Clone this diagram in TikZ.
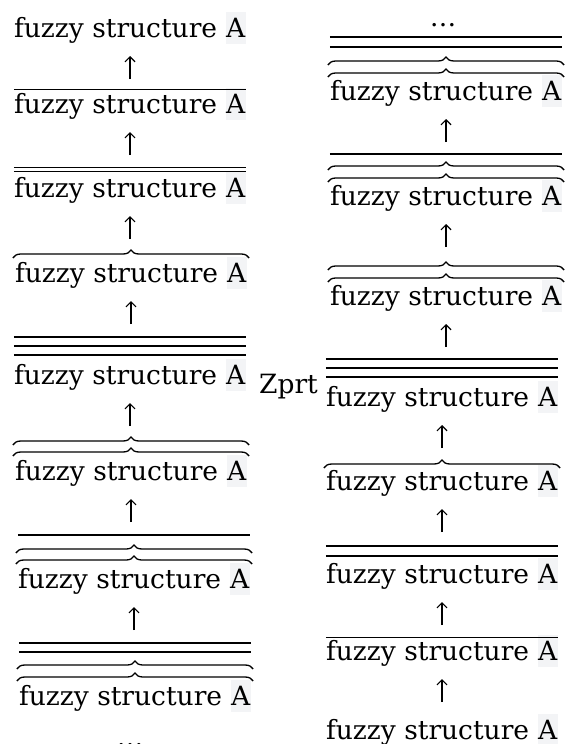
\documentclass[tikz,border=0pt]{standalone}
\usepackage{fontspec}
\setmainfont{DejaVu Serif}
\usetikzlibrary{arrows.meta, decorations.pathreplacing}

\definecolor{hlgray}{RGB}{243,244,246}
\newcommand{\hlA}{{\setlength{\fboxsep}{0.6pt}\colorbox{hlgray}{\rule[-6pt]{0pt}{30pt}A}}}

\begin{document}
\begin{tikzpicture}[
    x=1pt, y=1pt,
    font=\fontsize{26.5}{30}\selectfont,
    fs/.style={anchor=base, inner sep=0pt},
    thinbar/.style={line width=1pt},
    thickbar/.style={line width=2.7pt},
    obrace/.style={line width=1.3pt, decorate, decoration={brace, amplitude=8pt}},
    uparrow/.style={line width=1.2pt, -{Straight Barb[length=5pt, width=10pt]}}
]
    \useasboundingbox (0,0) rectangle (565,-744);

    % Left column
    \node[fs] (L1) at (130,-37) {fuzzy structure \hlA};
    \node[fs] (L2) at (130,-113) {fuzzy structure \hlA};
    \node[fs] (L3) at (130,-197) {fuzzy structure \hlA};
    \node[fs] (L4) at (131,-282) {fuzzy structure \hlA};
    \node[fs] (L5) at (130,-384) {fuzzy structure \hlA};
    \node[fs] (L6) at (131,-480) {fuzzy structure \hlA};
    \node[fs] (L7) at (134,-588) {fuzzy structure \hlA};
    \node[fs] (L8) at (135,-705) {fuzzy structure \hlA};
    \node[fs] (ldots) at (130,-746) {…};

    % Middle label
    \node[anchor=base west, inner sep=0pt] (zprt) at (259,-393) {Zprt};

    % Right column
    \node[fs] (rdots) at (443,-26) {…};
    \node[fs] (R1) at (446,-100) {fuzzy structure \hlA};
    \node[fs] (R2) at (446,-205) {fuzzy structure \hlA};
    \node[fs] (R3) at (446,-305) {fuzzy structure \hlA};
    \node[fs] (R4) at (442,-406) {fuzzy structure \hlA};
    \node[fs] (R5) at (442,-490) {fuzzy structure \hlA};
    \node[fs] (R6) at (442,-583) {fuzzy structure \hlA};
    \node[fs] (R7) at (442,-660) {fuzzy structure \hlA};
    \node[fs] (R8) at (442,-739) {fuzzy structure \hlA};

    % Bars over the left column
    \draw[thinbar] ([yshift=24pt]L2.base west) -- ([yshift=24pt]L2.base east);
    \foreach \h in {26,30}
        \draw[thinbar] ([yshift=\h pt]L3.base west) -- ([yshift=\h pt]L3.base east);
    \draw[obrace] ([xshift=-2pt,yshift=24pt]L4.base west) -- ([xshift=2pt,yshift=24pt]L4.base east);
    \foreach \h in {29,38,47}
        \draw[thickbar] ([yshift=\h pt]L5.base west) -- ([yshift=\h pt]L5.base east);
    \foreach \h in {24,35}
        \draw[obrace] ([xshift=-2pt,yshift=\h pt]L6.base west) -- ([xshift=2pt,yshift=\h pt]L6.base east);
    \foreach \h in {24,35}
        \draw[obrace] ([xshift=-2pt,yshift=\h pt]L7.base west) -- ([xshift=2pt,yshift=\h pt]L7.base east);
    \draw[thickbar] ([yshift=53pt]L7.base west) -- ([yshift=53pt]L7.base east);
    \foreach \h in {24,36}
        \draw[obrace] ([xshift=-2pt,yshift=\h pt]L8.base west) -- ([xshift=2pt,yshift=\h pt]L8.base east);
    \foreach \h in {53,62}
        \draw[thickbar] ([yshift=\h pt]L8.base west) -- ([yshift=\h pt]L8.base east);

    % Bars over the right column
    \foreach \h in {23,35}
        \draw[obrace] ([xshift=-2pt,yshift=\h pt]R1.base west) -- ([xshift=2pt,yshift=\h pt]R1.base east);
    \foreach \h in {53,63}
        \draw[thickbar] ([yshift=\h pt]R1.base west) -- ([yshift=\h pt]R1.base east);
    \foreach \h in {23,35}
        \draw[obrace] ([xshift=-2pt,yshift=\h pt]R2.base west) -- ([xshift=2pt,yshift=\h pt]R2.base east);
    \draw[thickbar] ([yshift=51pt]R2.base west) -- ([yshift=51pt]R2.base east);
    \foreach \h in {23,35}
        \draw[obrace] ([xshift=-2pt,yshift=\h pt]R3.base west) -- ([xshift=2pt,yshift=\h pt]R3.base east);
    \foreach \h in {29,38,47}
        \draw[thickbar] ([yshift=\h pt]R4.base west) -- ([yshift=\h pt]R4.base east);
    \draw[obrace] ([xshift=-2pt,yshift=22pt]R5.base west) -- ([xshift=2pt,yshift=22pt]R5.base east);
    \foreach \h in {27,37}
        \draw[thickbar] ([yshift=\h pt]R6.base west) -- ([yshift=\h pt]R6.base east);
    \draw[thinbar] ([yshift=23pt]R7.base west) -- ([yshift=23pt]R7.base east);

    % Arrows
    \foreach \n in {L1,L2,L3,L4,L5,L6,L7,R1,R2,R3,R4,R5,R6,R7}
        \draw[uparrow] ([yshift=-42pt]\n.base) -- ([yshift=-19pt]\n.base);

\end{tikzpicture}
\end{document}
